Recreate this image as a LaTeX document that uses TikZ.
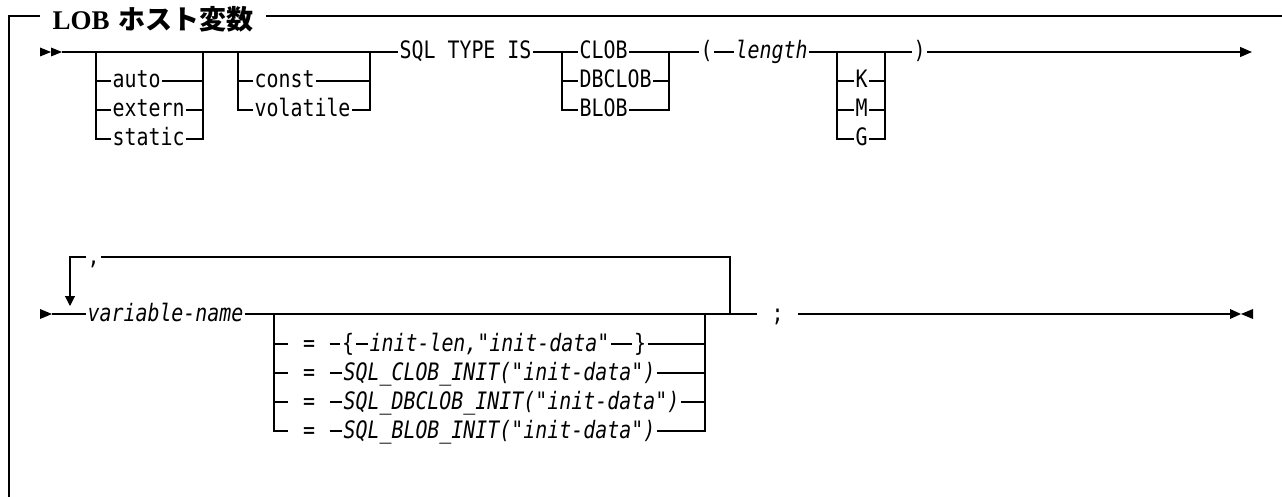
\documentclass[tikz,border=0pt]{standalone}
\usepackage{fontspec}
\setmainfont{Liberation Serif}
\newfontfamily\railfont[FakeStretch=0.83]{DejaVu Sans Mono}
\newfontfamily\jpfont{Noto Sans CJK JP}
\usetikzlibrary{arrows.meta}

\newcommand{\railtext}{\railfont\fontsize{24pt}{24pt}\selectfont}

\tikzset{
  rail/.style={line width=1.1pt},
  kw/.style={font=\railtext, inner xsep=1pt, inner ysep=0pt,
    text height=14pt, text depth=0pt, anchor=west},
  var/.style={kw, font=\railtext\itshape},
  gleich/.style={kw, anchor=center, inner xsep=14pt},
  titel/.style={font=\fontsize{27pt}{27pt}\selectfont, inner xsep=12pt,
    inner ysep=0pt, text height=28pt, text depth=0pt, anchor=west},
  spitze/.style={-{Triangle[length=12pt,width=10pt]}}
}

\begin{document}
\begin{tikzpicture}[x=1pt,y=-1pt,rail]
    \useasboundingbox (0,0) rectangle (1282,497);

    % Rahmen
    \node[titel] (titel) at (40,16) {\textbf{LOB}\hspace{9pt}{\jpfont\bfseries ホスト変数}};
    \coordinate (rahmen) at (9,16);
    \draw (titel.west) -- (rahmen) -- (9,497);
    \draw (titel.east) -- (1282,16);

    % Zeile 1
    \fill (40,47.5) -- (51,52) -- (40,56.5) -- cycle;
    \fill (51,47.5) -- (62,52) -- (51,56.5) -- cycle;
    \coordinate (s1) at (62,52);

    \coordinate (b1l) at (96,52);  \coordinate (b1r) at (203,52);
    \coordinate (b2l) at (238,52); \coordinate (b2r) at (370,52);
    \coordinate (b3l) at (562,52); \coordinate (b3r) at (669,52);
    \coordinate (b4l) at (837,52); \coordinate (b4r) at (885,52);

    \node[kw] (auto) at (111,81) {auto};
    \node[kw] (extern) at (111,110) {extern};
    \node[kw] (static) at (111,139) {static};
    \node[kw] (const) at (253,81) {const};
    \node[kw] (volatile) at (253,110) {volatile};
    \node[kw] (sqltype) at (398,52) {SQL TYPE IS};
    \node[kw] (clob) at (578,52) {CLOB};
    \node[kw] (dbclob) at (578,81) {DBCLOB};
    \node[kw] (blob) at (578,110) {BLOB};
    \node[kw] (lpar) at (699,52) {(};
    \node[var] (length) at (734,52) {length};
    \node[kw] (k) at (854,81) {K};
    \node[kw] (m) at (854,110) {M};
    \node[kw] (g) at (854,139) {G};
    \node[kw] (rpar) at (912,52) {)};
    \coordinate (e1) at (1252,52);

    \draw (s1) -- (sqltype.west);
    \draw (sqltype.east) -- (clob.west);
    \draw (clob.east) -- (lpar.west);
    \draw (lpar.east) -- (length.west);
    \draw (length.east) -- (rpar.west);
    \draw[spitze] (rpar.east) -- (e1);

    % Verzweigungen
    \draw (b1l) |- (static.west);  \draw (b1r) |- (static.east);
    \foreach \n in {auto,extern}
        \draw (\n.west -| b1l) -- (\n.west)  (\n.east) -- (\n.east -| b1r);
    \draw (b2l) |- (volatile.west);  \draw (b2r) |- (volatile.east);
    \draw (const.west -| b2l) -- (const.west)  (const.east) -- (const.east -| b2r);
    \draw (b3l) |- (blob.west);  \draw (b3r) |- (blob.east);
    \draw (dbclob.west -| b3l) -- (dbclob.west)  (dbclob.east) -- (dbclob.east -| b3r);
    \draw (b4l) |- (g.west);  \draw (b4r) |- (g.east);
    \foreach \n in {k,m}
        \draw (\n.west -| b4l) -- (\n.west)  (\n.east) -- (\n.east -| b4r);

    % Zeile 2
    \fill (40,309) -- (52,314) -- (40,319) -- cycle;
    \coordinate (s2) at (52,314);
    \node[kw] (komma) at (86,257) {,};
    \node[var] (varname) at (86,314) {variable-name};
    \coordinate (b5l) at (274,314); \coordinate (b5r) at (705,314);
    \coordinate (schleife) at (730,314);
    \coordinate (ziel) at (70,306);
    \node[kw,inner xsep=14pt] (semi) at (757,314) {;};
    \coordinate (e2) at (1230,314);

    \node[gleich] (eq1) at (309,344) {=};
    \node[gleich] (eq2) at (309,373) {=};
    \node[gleich] (eq3) at (309,402) {=};
    \node[gleich] (eq4) at (309,431) {=};
    \node[kw,anchor=center] (lklammer) at (348,344) {\{};
    \node[var] (initlen) at (368,344) {init-len,"init-data"};
    \node[kw,anchor=center] (rklammer) at (640,344) {\}};
    \node[var] (clobinit) at (342,373) {SQL\_CLOB\_INIT("init-data")};
    \node[var] (dbclobinit) at (342,402) {SQL\_DBCLOB\_INIT("init-data")};
    \node[var] (blobinit) at (342,431) {SQL\_BLOB\_INIT("init-data")};

    \draw (s2) -- (varname.west);
    \draw (varname.east) -- (semi.west);
    \draw (semi.east) -- (e2);

    % Schleife
    \draw (schleife) |- (komma.east);
    \draw[-{Triangle[length=10pt,width=10pt]}] (komma.west) -| (ziel);

    % Werte
    \draw (b5l) |- (eq4.west);  \draw (b5r) |- (blobinit.east);
    \draw (eq1.west -| b5l) -- (eq1.west)  (eq1.east) -- (lklammer.west);
    \draw (lklammer.east) -- (initlen.west)  (initlen.east) -- (rklammer.west);
    \draw (rklammer.east) -- (rklammer.east -| b5r);
    \foreach \e/\t in {eq2/clobinit,eq3/dbclobinit,eq4/blobinit}
        \draw (\e.west -| b5l) -- (\e.west)  (\e.east) -- (\t.west)  (\t.east) -- (\t.east -| b5r);

    % Ende
    \fill (1230,309) -- (1241,314) -- (1230,319) -- cycle;
    \fill (1253,309) -- (1241,314) -- (1253,319) -- cycle;
\end{tikzpicture}
\end{document}
